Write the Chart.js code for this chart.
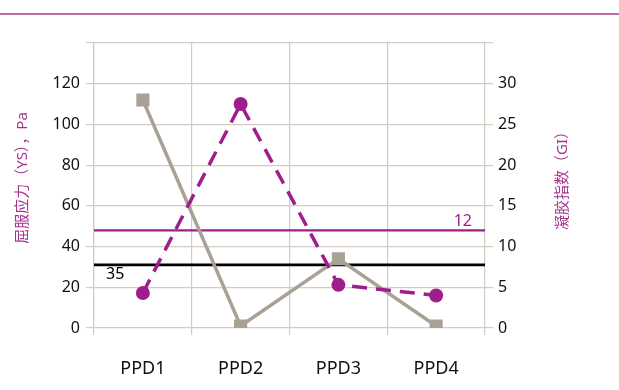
<!DOCTYPE html>
<html>
<head>
<meta charset="utf-8">
<script src="https://cdn.jsdelivr.net/npm/chart.js@4"></script>
<style>
  html, body { margin: 0; padding: 0; background: #fff; }
  #wrap { width: 619px; height: 390px; }
</style>
</head>
<body>
<div id="wrap"><canvas id="chart" width="619" height="390"></canvas></div>
<script>
// categories and series
const categories = ["PPD1", "PPD2", "PPD3", "PPD4"];
const ysValues = [112, 1, 34, 1];        // 屈服应力 (left axis)
const giValues = [4.3, 27.5, 5.3, 4.0];  // 凝胶指数 (right axis)

// axis ranges
const ysMax = 140, ysStep = 20;
const giMax = 35, giStep = 5;

// reference lines: value, axis, label
const refValues = [31, 12];
const refAxes = ["yL", "yR"];
const refLabels = ["35", "12"];

const magenta = "#9e1f8c";
const gray = "#aaa196";
const gridColor = "#d2ccc4";
const fontFamily = "'Noto Sans', 'Noto Sans CJK SC', sans-serif";

// draws the rule at the top, reference lines and axis titles
const decorPlugin = {
  id: "decor",
  beforeDraw(chart) {
    const ctx = chart.ctx;
    ctx.save();
    ctx.strokeStyle = "#a8348f";
    ctx.lineWidth = 1.6;
    ctx.beginPath();
    ctx.moveTo(0, 14);
    ctx.lineTo(chart.width, 14);
    ctx.stroke();
    ctx.restore();
  },
  beforeDatasetsDraw(chart) {
    const ctx = chart.ctx;
    const area = chart.chartArea;
    ctx.save();
    refValues.forEach((v, i) => {
      const y = chart.scales[refAxes[i]].getPixelForValue(v);
      const color = i === 0 ? "#000" : magenta;
      ctx.strokeStyle = color;
      ctx.lineWidth = i === 0 ? 2.6 : 2.2;
      ctx.beginPath();
      ctx.moveTo(area.left, y);
      ctx.lineTo(area.right, y);
      ctx.stroke();
      ctx.fillStyle = color;
      ctx.font = "16px " + fontFamily;
      ctx.textBaseline = "middle";
      if (i === 0) {
        ctx.textAlign = "left";
        ctx.fillText(refLabels[i], area.left + 12, y + 10);
      } else {
        ctx.textAlign = "right";
        ctx.fillText(refLabels[i], area.right - 13, y - 9);
      }
    });
    ctx.restore();
  },
  afterDraw(chart) {
    const ctx = chart.ctx;
    ctx.save();
    ctx.fillStyle = "#a8348f";
    ctx.font = "15px " + fontFamily;
    ctx.textAlign = "center";
    ctx.textBaseline = "middle";
    ctx.translate(23, 178);
    ctx.rotate(-Math.PI / 2);
    ctx.fillText("屈服应力（YS），Pa", 0, 0);
    ctx.restore();

    ctx.save();
    ctx.fillStyle = "#a8348f";
    ctx.font = "15px " + fontFamily;
    ctx.textAlign = "center";
    ctx.textBaseline = "middle";
    ctx.translate(563, 177);
    ctx.rotate(-Math.PI / 2);
    ctx.fillText("凝胶指数（GI）", 0, 0);
    ctx.restore();
  }
};

const ctx = document.getElementById("chart").getContext("2d");
new Chart(ctx, {
  type: "line",
  data: {
    labels: categories,
    datasets: [
      {
        label: "凝胶指数",
        data: giValues,
        yAxisID: "yR",
        borderColor: magenta,
        backgroundColor: magenta,
        borderWidth: 3.5,
        borderDash: [15, 9],
        pointStyle: "circle",
        pointRadius: 7,
        pointBorderWidth: 0,
        tension: 0,
        order: 0,
      },
      {
        label: "屈服应力",
        data: ysValues,
        yAxisID: "yL",
        borderColor: gray,
        backgroundColor: gray,
        borderWidth: 3.5,
        pointStyle: "rect",
        pointRadius: 9.3,
        pointBorderWidth: 0,
        tension: 0,
        order: 1,
      },
    ],
  },
  options: {
    responsive: false,
    animation: false,
    layout: { padding: { top: 43, left: 0, right: 0, bottom: 0 } },
    plugins: {
      legend: { display: false },
      tooltip: { enabled: false },
    },
    scales: {
      x: {
        offset: true,
        grid: { offset: true, color: gridColor, lineWidth: 1.2, tickLength: 7 },
        border: { display: false },
        ticks: { color: "#111", font: { size: 18, family: fontFamily }, padding: 23 },
        afterFit(scale) { scale.height = 62; },
      },
      yL: {
        position: "left",
        min: 0,
        max: ysMax,
        ticks: {
          stepSize: ysStep,
          color: "#111",
          font: { size: 16, family: fontFamily },
          padding: 6,
          callback: (v) => (v === ysMax ? "" : v),
        },
        grid: { color: gridColor, lineWidth: 1.2, tickLength: 8 },
        border: { color: gridColor, width: 1.2 },
        afterFit(scale) { scale.width = 94; },
      },
      yR: {
        position: "right",
        min: 0,
        max: giMax,
        ticks: {
          stepSize: giStep,
          color: "#111",
          font: { size: 16, family: fontFamily },
          padding: 5,
          callback: (v) => (v === giMax ? "" : v),
        },
        grid: { drawOnChartArea: false, color: gridColor, lineWidth: 1.2, tickLength: 8 },
        border: { display: false },
        afterFit(scale) { scale.width = 134; },
      },
    },
  },
  plugins: [decorPlugin],
});
</script>
</body>
</html>
